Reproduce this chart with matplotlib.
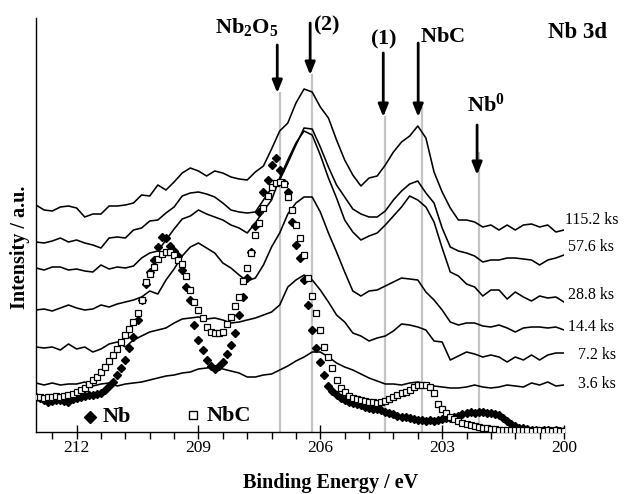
import numpy as np
import matplotlib
matplotlib.use("Agg")
import matplotlib.pyplot as plt
from matplotlib.ticker import FixedLocator

plt.rcParams['font.family'] = ['Liberation Serif', 'DejaVu Serif']
plt.rcParams['mathtext.fontset'] = 'custom'
plt.rcParams['mathtext.rm'] = 'Liberation Serif'
plt.rcParams['mathtext.bf'] = 'Liberation Serif:bold'

# Binding energy grids (eV), spectra sampled every 0.2 eV, references every 0.1 eV
energy = np.linspace(213.0, 200.0, 66)
energy_ref = np.linspace(213.0, 200.0, 131)

# Nb 3d spectra after each treatment time (offset, arbitrary units)
i_1152 = [227, 222, 221, 225, 226, 224, 215, 218, 218, 226,
          226, 227, 229, 237, 236, 247, 242, 250, 259, 264,
          261, 256, 261, 259, 255, 253, 252, 260, 266, 283,
          301, 309, 329, 343, 340, 325, 314, 292, 272, 257,
          246, 254, 256, 267, 280, 290, 296, 306, 294, 260,
          240, 224, 212, 212, 210, 205, 207, 202, 207, 202,
          207, 208, 205, 207, 200, 202]
i_576 = [190, 189, 191, 194, 190, 192, 189, 187, 184, 194,
         195, 194, 202, 204, 211, 212, 219, 225, 236, 239,
         240, 238, 235, 229, 222, 220, 219, 220, 232, 244,
         252, 269, 287, 304, 303, 285, 265, 247, 235, 223,
         218, 215, 215, 221, 232, 241, 248, 251, 239, 229,
         204, 185, 181, 179, 176, 170, 172, 172, 174, 174,
         173, 172, 167, 172, 174, 177]
i_288 = [164, 162, 165, 165, 162, 163, 161, 160, 167, 163,
         165, 164, 166, 174, 179, 181, 192, 203, 213, 216,
         222, 218, 215, 212, 207, 204, 199, 209, 221, 232,
         254, 272, 289, 301, 297, 277, 254, 234, 212, 200,
         192, 196, 199, 207, 216, 225, 236, 232, 225, 210,
         184, 160, 156, 148, 145, 136, 142, 142, 133, 140,
         135, 131, 136, 134, 135, 130]
i_144 = [122, 123, 121, 124, 127, 124, 122, 123, 127, 125,
         128, 130, 132, 135, 141, 138, 152, 163, 176, 185,
         189, 184, 179, 169, 164, 157, 151, 154, 167, 185,
         199, 218, 229, 235, 235, 220, 199, 180, 160, 141,
         136, 141, 142, 146, 150, 154, 153, 152, 140, 132,
         122, 110, 107, 109, 109, 106, 105, 107, 104, 100,
         104, 105, 105, 104, 105, 102]
i_72 = [85, 84, 85, 82, 88, 83, 85, 80, 83, 88,
        90, 85, 92, 96, 100, 102, 104, 109, 113, 114,
        115, 113, 114, 112, 109, 110, 112, 114, 117, 120,
        127, 145, 152, 157, 152, 142, 130, 117, 110, 99,
        96, 91, 94, 96, 101, 108, 107, 105, 102, 91,
        90, 72, 76, 80, 78, 75, 77, 75, 70, 75,
        72, 77, 72, 77, 79, 79]
i_36 = [49, 47, 49, 47, 48, 48, 50, 46, 48, 49,
        46, 48, 49, 50, 52, 54, 56, 57, 59, 60,
        63, 64, 65, 63, 61, 59, 55, 55, 57, 58,
        62, 66, 71, 75, 80, 80, 75, 69, 65, 62,
        58, 54, 51, 48, 48, 47, 49, 50, 48, 46,
        45, 44, 44, 45, 47, 45, 44, 45, 47, 46,
        45, 49, 47, 50, 46, 47]

spectra = [i_1152, i_576, i_288, i_144, i_72, i_36]
times = ['115.2 ks', '57.6 ks', '28.8 ks', '14.4 ks', '7.2 ks', '3.6 ks']

# Reference spectra: metallic Nb and NbC
ref_nb = [35, 34, 32, 30, 31, 32, 32, 31, 30, 33,
          34, 35, 36, 37, 37, 38, 39, 42, 46, 50,
          57, 64, 72, 84, 95, 112, 132, 148, 160, 172,
          185, 195, 194, 186, 181, 176, 162, 145, 132, 107,
          92, 82, 72, 66, 63, 66, 70, 78, 87, 99,
          117, 135, 154, 180, 206, 220, 240, 252, 267, 274,
          262, 249, 240, 210, 187, 174, 152, 127, 102, 84,
          70, 57, 46, 41, 37, 34, 32, 30, 29, 28,
          27, 25, 24, 23, 23, 22, 20, 19, 18, 16,
          15, 15, 14, 13, 12, 12, 11, 12, 11, 12,
          13, 14, 14, 15, 16, 18, 19, 20, 19, 20,
          20, 19, 19, 18, 17, 14, 11, 8, 6, 4,
          4, 3, 2, 2, 1, 2, 2, 1, 2, 1, 1]
ref_nbc = [35, 35, 34, 35, 35, 36, 35, 36, 37, 38,
           40, 42, 44, 48, 52, 55, 60, 65, 71, 77,
           83, 90, 97, 103, 110, 119, 132, 150, 158, 165,
           173, 178, 180, 180, 177, 172, 168, 156, 142, 130,
           122, 114, 105, 100, 99, 99, 100, 108, 115, 126,
           135, 151, 164, 179, 197, 209, 224, 236, 245, 249,
           250, 248, 235, 222, 207, 194, 177, 154, 136, 119,
           102, 85, 75, 64, 52, 44, 40, 36, 34, 33,
           32, 31, 30, 30, 29, 30, 31, 33, 35, 37,
           39, 40, 42, 45, 47, 47, 47, 45, 39, 28,
           23, 19, 15, 13, 11, 9, 8, 7, 6, 5,
           4, 4, 3, 3, 2, 2, 2, 2, 2, 2,
           2, 2, 1, 2, 2, 1, 2, 1, 2, 1, 1]

# Chemical state markers
state_names = [r'$\mathbf{Nb_2O_5}$', r'$\mathbf{(2)}$', r'$\mathbf{(1)}$',
               r'$\mathbf{NbC}$', r'$\mathbf{Nb^0}$']
state_energy = [207.0, 206.2, 204.4, 203.5, 202.1]
guide_top = [339, 357, 315, 324, 279]
arrow_energy = [207.06, 206.25, 204.45, 203.59, 202.14]
arrow_top = [387, 409, 379, 389, 307]
arrow_tip = [339, 357, 315, 315, 257]

W, H = 629, 494
fig = plt.figure(figsize=(W / 100, H / 100), dpi=100)
ax = fig.add_axes([36 / W, 1 - 432 / H, 528 / W, 414 / H])


def px(x, y):
    return x / W, 1 - y / H


for e, top in zip(state_energy, guide_top):
    ax.plot([e, e], [0, top], color='#c4c4c4', lw=1.6, zorder=1)

for s in spectra:
    ax.plot(energy, s, color='black', lw=1.15, zorder=3)

ax.plot(energy_ref, ref_nb, linestyle='none', marker='D', ms=4.0,
        color='black', zorder=4)
ax.plot(energy_ref, ref_nbc, linestyle='none', marker='s', ms=4.0,
        mfc='white', mec='black', mew=0.9, zorder=5)

for e, top, tip in zip(arrow_energy, arrow_top, arrow_tip):
    ax.annotate('', xy=(e, tip), xytext=(e, top),
                arrowprops=dict(arrowstyle='-|>,head_length=0.5,head_width=0.2',
                                mutation_scale=15, color='black', lw=2,
                                shrinkA=0, shrinkB=0))

ax.set_xlim(213, 200)
ax.set_ylim(0, 414)
ax.spines['top'].set_visible(False)
ax.spines['right'].set_visible(False)
ax.spines['left'].set_linewidth(1.0)
ax.spines['bottom'].set_linewidth(1.0)
ax.set_yticks([])
ax.set_xticks([212, 209, 206, 203, 200])
ax.xaxis.set_minor_locator(FixedLocator(np.arange(200, 213.01, 0.6)))
ax.tick_params(axis='x', which='major', direction='inout', length=10,
               width=1.0, labelsize=12.5, pad=1)
ax.tick_params(axis='x', which='minor', direction='out', length=5, width=1.0)

# labels of states above arrows
label_pos = [(247, 27), (327, 25), (384, 39), (442, 38), (486, 105)]
for name, (x, y) in zip(state_names, label_pos):
    fig.text(*px(x, y), name, fontsize=16, ha='center', va='center')
fig.text(*px(577, 33), 'Nb 3d', fontsize=16.5, fontweight='bold',
         ha='center', va='center')

time_pos = [(565, 220), (568, 247), (568, 295), (568, 327), (578, 355), (578, 384)]
for t, (x, y) in zip(times, time_pos):
    fig.text(*px(x, y), t, fontsize=11.5, ha='left', va='center')

# legend
ax.plot([0.103], [0.036], transform=ax.transAxes, marker='D', ms=6,
        color='black', clip_on=False)
fig.text(*px(103, 417), 'Nb', fontsize=16, fontweight='bold', ha='left', va='center')
ax.plot([0.298], [0.041], transform=ax.transAxes, marker='s', ms=5.5,
        mfc='white', mec='black', mew=1.0, clip_on=False)
fig.text(*px(207, 416), 'NbC', fontsize=16, fontweight='bold', ha='left', va='center')

fig.text(*px(331, 483), 'Binding Energy / eV', fontsize=14.5, fontweight='bold',
         ha='center', va='center')
fig.text(*px(20, 247), 'Intensity / a.u.', fontsize=14.5, fontweight='bold',
         ha='center', va='center', rotation=90)

fig.savefig('out.png', dpi=100)
